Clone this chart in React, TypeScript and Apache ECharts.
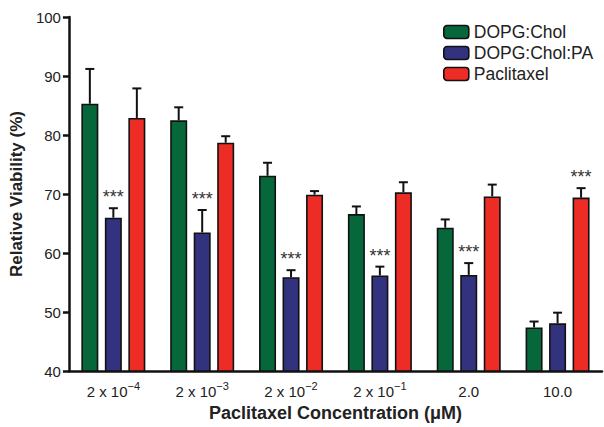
import React, { useEffect, useRef } from "react";
import * as echarts from "echarts";

const categories = ["2 x 10⁻⁴", "2 x 10⁻³", "2 x 10⁻²", "2 x 10⁻¹", "2.0", "10.0"];
const tickBase = ["2 x 10", "2 x 10", "2 x 10", "2 x 10", "2.0", "10.0"];
const tickExp = ["−4", "−3", "−2", "−1", "", ""];
const seriesNames = ["DOPG:Chol", "DOPG:Chol:PA", "Paclitaxel"];
const cholMean = [85.3, 82.5, 73.1, 66.6, 64.3, 47.4];
const cholErr = [5.9, 2.2, 2.2, 1.3, 1.4, 1.0];
const paMean = [66.0, 63.5, 55.9, 56.2, 56.3, 48.1];
const paErr = [1.6, 3.8, 1.2, 1.5, 2.0, 1.8];
const pacMean = [82.9, 78.7, 69.9, 70.3, 69.6, 69.4];
const pacErr = [5.0, 1.1, 0.6, 1.7, 2.0, 1.6];
const cholSig = [false, false, false, false, false, false];
const paSig = [true, true, true, true, true, false];
const pacSig = [false, false, false, false, false, true];
const colors = ["#06683a", "#33327f", "#ee2c26"];

const BAR_W = 17;
const GAP = 6.5;

export default function App() {
  const ref = useRef<HTMLDivElement>(null);
  useEffect(() => {
    if (!ref.current) return;
    const chart = echarts.init(ref.current, null, { renderer: "svg" });
    const means = [cholMean, paMean, pacMean];
    const errs = [cholErr, paErr, pacErr];
    const sigs = [cholSig, paSig, pacSig];
    const font = "Liberation Sans";

    const barSeries = means.map((m, i) => ({
      type: "bar",
      name: seriesNames[i],
      data: m,
      barWidth: BAR_W,
      barGap: (GAP / BAR_W) * 100 + "%",
      itemStyle: { color: colors[i], borderColor: "#111", borderWidth: 1.6 },
      z: 2,
    }));

    const errSeries = means.map((m, i) => ({
      type: "custom",
      name: seriesNames[i] + " err",
      data: m.map((v, j) => [j, v, v + errs[i][j], sigs[i][j] ? 1 : 0]),
      z: 3,
      renderItem: (params: any, api: any) => {
        const x = api.value(0);
        const base = api.coord([x, api.value(1)]);
        const top = api.coord([x, api.value(2)]);
        const cx = base[0] + (i - 1) * (BAR_W + GAP);
        const children: any[] = [
          {
            type: "line",
            shape: { x1: cx, y1: base[1], x2: cx, y2: top[1] },
            style: { stroke: "#111", lineWidth: 2 },
          },
          {
            type: "line",
            shape: { x1: cx - 4.5, y1: top[1], x2: cx + 4.5, y2: top[1] },
            style: { stroke: "#111", lineWidth: 2 },
          },
        ];
        if (api.value(3) === 1) {
          children.push({
            type: "text",
            x: cx,
            y: top[1] - 11,
            style: {
              text: "***",
              fontSize: 18,
              fontFamily: font,
              fill: "#333",
              align: "center",
              verticalAlign: "middle",
            },
          });
        }
        return { type: "group", children };
      },
    }));

    chart.setOption({
      animation: false,
      grid: { left: 67, right: 2, top: 17, bottom: 54 },
      legend: {
        data: seriesNames,
        orient: "vertical",
        left: 438,
        top: 18,
        itemWidth: 25,
        itemHeight: 13,
        itemGap: 3,
        textStyle: { fontFamily: font, fontSize: 17.5, color: "#222" },
        itemStyle: { borderColor: "#111", borderWidth: 1.6 },
      },
      xAxis: {
        type: "category",
        data: categories,
        name: "Paclitaxel Concentration (μM)",
        nameLocation: "middle",
        nameGap: 30,
        nameTextStyle: { fontFamily: font, fontSize: 18, fontWeight: "bold", color: "#222" },
        axisLine: { lineStyle: { color: "#111", width: 2.5 } },
        axisTick: { alignWithLabel: true, interval: 0, length: 6, lineStyle: { color: "#111", width: 2.5 } },
        axisLabel: {
          interval: 0,
          fontFamily: font,
          fontSize: 15,
          color: "#222",
          margin: 9,
          formatter: (_v: string, idx: number) =>
            tickExp[idx] ? "{b|" + tickBase[idx] + "}{s|" + tickExp[idx] + "}" : "{b|" + tickBase[idx] + "}",
          rich: {
            b: { fontFamily: font, fontSize: 15, color: "#222", lineHeight: 19, verticalAlign: "bottom" },
            s: { fontFamily: font, fontSize: 11, color: "#222", lineHeight: 19, verticalAlign: "top" },
          },
        },
      },
      yAxis: {
        type: "value",
        min: 40,
        max: 100,
        interval: 10,
        name: "Relative Viability (%)",
        nameLocation: "middle",
        nameGap: 34,
        nameTextStyle: { fontFamily: font, fontSize: 17, fontWeight: "bold", color: "#222" },
        axisLine: { show: true, lineStyle: { color: "#111", width: 2.5 } },
        axisTick: { show: true, length: 6, lineStyle: { color: "#111", width: 2.5 } },
        axisLabel: { fontFamily: font, fontSize: 15, color: "#222", margin: 8 },
        splitLine: { show: false },
      },
      series: [...barSeries, ...errSeries],
    });
    return () => chart.dispose();
  }, []);
  return (
    <div
      ref={ref}
      style={{ position: "absolute", left: 0, top: 0, width: 604, height: 427 }}
    />
  );
}
